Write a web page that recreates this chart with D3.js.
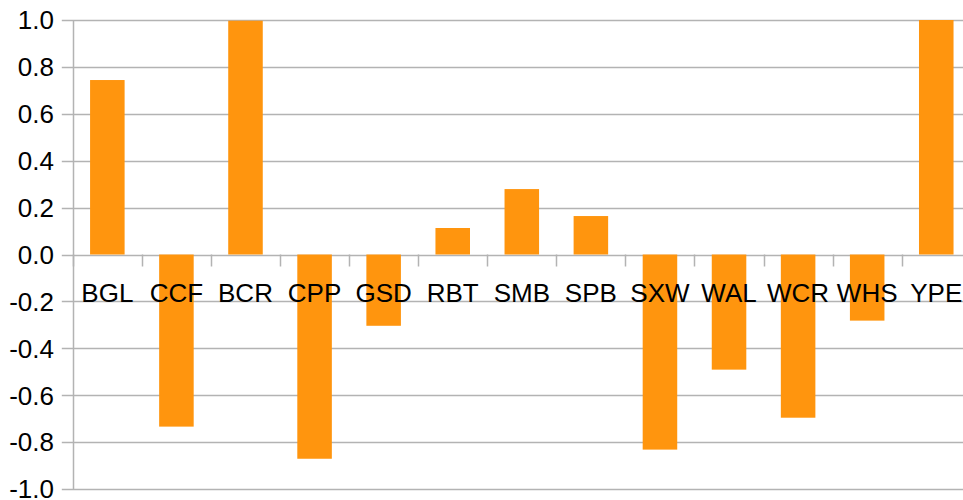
<!DOCTYPE html>
<html>
<head>
<meta charset="utf-8">
<script src="https://cdn.jsdelivr.net/npm/d3@7"></script>
<style>
  body { margin: 0; background: #fff; }
  svg { display: block; }
</style>
</head>
<body>
<div id="chart"></div>
<script>
// station codes and their values
var categories = ["BGL", "CCF", "BCR", "CPP", "GSD", "RBT", "SMB", "SPB", "SXW", "WAL", "WCR", "WHS", "YPE"];
var values = [0.744, -0.734, 0.997, -0.871, -0.304, 0.113, 0.279, 0.164, -0.832, -0.491, -0.696, -0.282, 1.0];
var yTicks = [-1.0, -0.8, -0.6, -0.4, -0.2, 0.0, 0.2, 0.4, 0.6, 0.8, 1.0];

var W = 963, H = 500;
var plotLeft = 72.8, plotRight = 970.8, plotTop = 20, plotBottom = 489;

var svg = d3.select("#chart").append("svg")
  .attr("width", W)
  .attr("height", H);

var x = d3.scaleBand()
  .domain(categories)
  .range([plotLeft, plotRight])
  .paddingInner(0.5)
  .paddingOuter(0.25);

var y = d3.scaleLinear()
  .domain([-1, 1])
  .range([plotBottom, plotTop]);

var grid = "#b3b3b3";
// plain hyphen for negatives, like the original
var fmt = function(d) { return d.toFixed(1).replace("-0.0", "0.0"); };

// horizontal grid lines plus little ticks left of the axis
svg.append("g")
  .selectAll("line")
  .data(yTicks)
  .enter().append("line")
    .attr("x1", plotLeft - 11)
    .attr("x2", W)
    .attr("y1", function(d) { return Math.round(y(d)) + 0.5; })
    .attr("y2", function(d) { return Math.round(y(d)) + 0.5; })
    .style("stroke", grid)
    .style("stroke-width", 1.5);

// y tick labels
svg.append("g")
  .selectAll("text")
  .data(yTicks)
  .enter().append("text")
    .attr("x", 54)
    .attr("y", function(d) { return y(d); })
    .attr("dy", "0.36em")
    .attr("text-anchor", "end")
    .style("font-family", "'Liberation Sans', Arial, sans-serif")
    .style("font-size", "26px")
    .style("fill", "#000")
    .text(fmt);

// bars
svg.append("g")
  .selectAll("rect")
  .data(values)
  .enter().append("rect")
    .attr("x", function(d, i) { return x(categories[i]); })
    .attr("y", function(d) { return y(Math.max(0, d)); })
    .attr("width", x.bandwidth())
    .attr("height", function(d) { return Math.abs(y(d) - y(0)); })
    .style("fill", "#ff950e");

// vertical axis line
svg.append("line")
  .attr("x1", Math.round(plotLeft) + 0.5)
  .attr("x2", Math.round(plotLeft) + 0.5)
  .attr("y1", plotTop)
  .attr("y2", plotBottom + 1)
  .style("stroke", grid)
  .style("stroke-width", 1.5);

// tick marks under the zero line between categories
var step = x.step();
var bounds = d3.range(categories.length + 1).map(function(i) { return plotLeft + i * step; });
svg.append("g")
  .selectAll("line")
  .data(bounds)
  .enter().append("line")
    .attr("x1", function(d) { return Math.round(d) + 0.5; })
    .attr("x2", function(d) { return Math.round(d) + 0.5; })
    .attr("y1", y(0))
    .attr("y2", y(0) + 12)
    .style("stroke", grid)
    .style("stroke-width", 1.5);

// category labels sitting just under zero
svg.append("g")
  .selectAll("text")
  .data(categories)
  .enter().append("text")
    .attr("x", function(d) { return x(d) + x.bandwidth() / 2; })
    .attr("y", 302)
    .attr("text-anchor", "middle")
    .style("font-family", "'Liberation Sans', Arial, sans-serif")
    .style("font-size", "26px")
    .style("fill", "#000")
    .text(function(d) { return d; });
</script>
</body>
</html>
